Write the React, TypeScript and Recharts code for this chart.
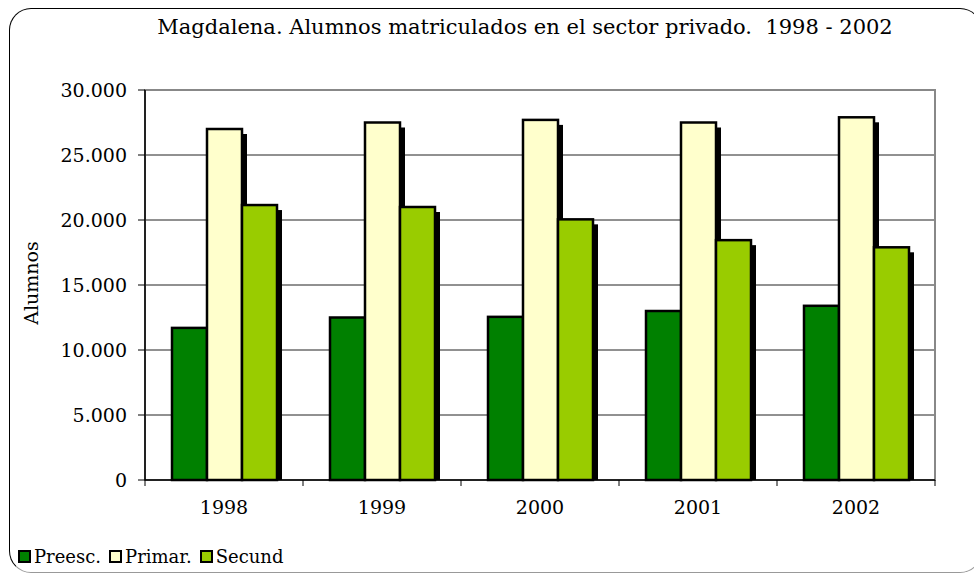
import {
    BarChart,
    Bar,
    XAxis,
    YAxis,
    CartesianGrid,
    ReferenceArea,
} from 'recharts'

const years = ['1998', '1999', '2000', '2001', '2002']
const preesc = [11700, 12500, 12550, 13000, 13400]
const primar = [27000, 27500, 27700, 27500, 27900]
const secund = [21150, 21000, 20050, 18450, 17900]
const yTicks = [0, 5000, 10000, 15000, 20000, 25000, 30000]

const data = years.map((year, i) => ({
    year,
    Preesc: preesc[i],
    Primar: primar[i],
    Secund: secund[i],
}))

const FONT = '"DejaVu Serif", serif'
const BAND = 158

const fmt = (v: number) => (v === 0 ? '0' : v.toLocaleString('de-DE'))

// bar with a black drop shadow to the lower right
const ShadowBar = (props: any) => {
    const { x, y, width, height, fill } = props
    if (!height || height <= 0) return null
    return (
        <g>
            <rect x={x + 5} y={y + 5} width={width} height={height - 5} fill="#000" />
            <rect x={x} y={y} width={width} height={height} fill={fill} stroke="#000" strokeWidth={2.5} />
        </g>
    )
}

// year label at centre, tick lines at the category borders
const YearTick = (props: any) => {
    const { x, y, payload, index } = props
    return (
        <g>
            <line x1={x - BAND / 2} y1={y - 8} x2={x - BAND / 2} y2={y - 2} stroke="#000" />
            {index === years.length - 1 && (
                <line x1={x + BAND / 2} y1={y - 8} x2={x + BAND / 2} y2={y - 2} stroke="#000" />
            )}
            <text x={x} y={y + 26} textAnchor="middle" fontFamily={FONT} fontSize={19} fill="#000">
                {payload.value}
            </text>
        </g>
    )
}

const legendItems = [
    { name: 'Preesc.', color: '#008000' },
    { name: 'Primar.', color: '#FFFFCC' },
    { name: 'Secund', color: '#99CC00' },
]

export default function App() {
    return (
        <div style={{ position: 'absolute', left: 0, top: 0, width: 974, height: 573, overflow: 'hidden', background: '#fff', fontFamily: FONT }}>
            <div
                style={{
                    position: 'absolute',
                    left: 9,
                    top: 8,
                    width: 973,
                    height: 565,
                    border: '1.5px solid #000',
                    borderBottomColor: '#999',
                    borderRadius: 22,
                    boxSizing: 'border-box',
                }}
            />
            <div style={{ position: 'absolute', left: 0, width: 1050, top: 15, textAlign: 'center', fontSize: 21, color: '#000', whiteSpace: 'nowrap' }}>
                Magdalena. Alumnos matriculados en el sector privado.&nbsp; 1998 - 2002
            </div>
            <div
                style={{
                    position: 'absolute',
                    left: 31,
                    top: 283,
                    transform: 'translate(-50%, -50%) rotate(-90deg)',
                    fontSize: 19,
                    color: '#000',
                }}
            >
                Alumnos
            </div>
            <div style={{ position: 'absolute', left: 0, top: 0 }}>
                <BarChart
                    width={974}
                    height={573}
                    data={data}
                    margin={{ top: 90, right: 39, bottom: 63, left: 0 }}
                    barSize={35}
                    barGap={0}
                >
                    <CartesianGrid horizontal vertical={false} stroke="#222" />
                    <XAxis
                        dataKey="year"
                        height={30}
                        axisLine={{ stroke: '#000', strokeWidth: 1.5 }}
                        tickLine={false}
                        tick={<YearTick />}
                        interval={0}
                    />
                    <YAxis
                        width={145}
                        domain={[0, 30000]}
                        ticks={yTicks}
                        tickFormatter={fmt}
                        axisLine={{ stroke: '#000', strokeWidth: 1.5 }}
                        tickLine={{ stroke: '#000' }}
                        tickSize={7}
                        tickMargin={11}
                        tick={{ fill: '#000', fontFamily: FONT, fontSize: 19 }}
                        interval={0}
                    />
                    <ReferenceArea y1={0} y2={30000} fill="none" stroke="#888" strokeWidth={2} ifOverflow="visible" />
                    <Bar dataKey="Preesc" fill="#008000" shape={<ShadowBar />} isAnimationActive={false} />
                    <Bar dataKey="Primar" fill="#FFFFCC" shape={<ShadowBar />} isAnimationActive={false} />
                    <Bar dataKey="Secund" fill="#99CC00" shape={<ShadowBar />} isAnimationActive={false} />
                </BarChart>
            </div>
            <div style={{ position: 'absolute', left: 18, top: 546, display: 'flex', alignItems: 'center', fontSize: 18, color: '#000' }}>
                {legendItems.map((it) => (
                    <div key={it.name} style={{ display: 'flex', alignItems: 'center', marginRight: 8 }}>
                        <span
                            style={{
                                display: 'inline-block',
                                width: 9,
                                height: 9,
                                background: it.color,
                                border: '2px solid #000',
                                marginRight: 3,
                            }}
                        />
                        {it.name}
                    </div>
                ))}
            </div>
        </div>
    )
}
